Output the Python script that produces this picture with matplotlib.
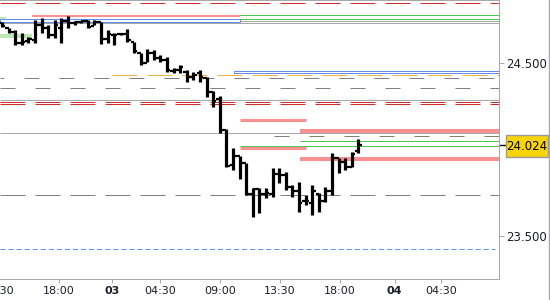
import matplotlib
matplotlib.use("Agg")
import matplotlib.pyplot as plt
from matplotlib.patches import Rectangle
from matplotlib.lines import Line2D
import matplotlib.transforms as mtransforms

plt.rcParams['lines.scale_dashes'] = False

# Barras OHLC de 30 minutos (indice de barra en el eje x)
highs = [24.737, 24.702, 24.691, 24.673, 24.650, 24.748, 24.760, 24.720, 24.748, 24.760,
         24.772, 24.743, 24.743, 24.748, 24.748, 24.737, 24.691, 24.673, 24.673, 24.696,
         24.621, 24.558, 24.581, 24.575, 24.546, 24.535, 24.471, 24.488, 24.459, 24.448,
         24.459, 24.419, 24.338, 24.309, 24.118, 24.009, 23.962, 23.922, 23.777, 23.777,
         23.777, 23.893, 23.893, 23.870, 23.795, 23.812, 23.737, 23.795, 23.748, 23.783,
         23.980, 23.951, 23.951, 23.985, 24.061]
lows = [24.708, 24.673, 24.604, 24.604, 24.615, 24.615, 24.673, 24.644, 24.644, 24.615,
        24.702, 24.720, 24.731, 24.702, 24.720, 24.610, 24.615, 24.604, 24.662, 24.621,
        24.558, 24.488, 24.506, 24.517, 24.506, 24.448, 24.442, 24.442, 24.390, 24.402,
        24.390, 24.303, 24.246, 24.095, 23.899, 23.881, 23.829, 23.737, 23.610, 23.633,
        23.719, 23.725, 23.806, 23.766, 23.725, 23.639, 23.679, 23.621, 23.639, 23.696,
        23.737, 23.864, 23.881, 23.899, 23.980]
opens = [24.730, 24.700, 24.680, 24.615, 24.625, 24.630, 24.720, 24.700, 24.660, 24.700,
         24.740, 24.730, 24.737, 24.740, 24.715, 24.735, 24.640, 24.660, 24.665, 24.665,
         24.620, 24.560, 24.500, 24.560, 24.530, 24.520, 24.455, 24.460, 24.450, 24.420,
         24.440, 24.415, 24.330, 24.290, 24.110, 23.910, 23.960, 23.920, 23.740, 23.770,
         23.740, 23.740, 23.860, 23.850, 23.780, 23.760, 23.700, 23.690, 23.740, 23.700,
         23.760, 23.950, 23.930, 23.900, 23.990]
closes = [24.712, 24.680, 24.615, 24.620, 24.640, 24.720, 24.700, 24.660, 24.720, 24.740,
          24.730, 24.735, 24.740, 24.710, 24.735, 24.640, 24.665, 24.662, 24.665, 24.630,
          24.570, 24.500, 24.560, 24.530, 24.520, 24.460, 24.460, 24.475, 24.420, 24.430,
          24.420, 24.330, 24.280, 24.110, 23.905, 23.960, 23.920, 23.740, 23.770, 23.740,
          23.750, 23.860, 23.850, 23.780, 23.760, 23.690, 23.700, 23.760, 23.700, 23.760,
          23.950, 23.930, 23.900, 23.975, 24.024]
last_price = 24.024

x_min, x_max = -0.3, 75.3
y_min, y_max = 23.251, 24.864

tick_pos = [8.6, 16.7, 23.9, 33.0, 42.1, 51.2, 59.5, 66.5]
tick_labels = ['18:00', '03', '04:30', '09:00', '13:30', '18:00', '04', '04:30']
y_ticks = [24.5, 23.5]

RED = '#d42a2a'
SALMON = '#fa9090'
GREEN = '#4cc84c'
BLUE = '#5f8ef0'
ORANGE = '#f2b23c'
GRAY = '#808080'
LGRAY = '#a8a8a8'
PX = 0.72  # un pixel en puntos

# niveles horizontales: precio, desde, hasta, color, ancho (px), estilo
levels = [
    (24.844, x_min, x_max, RED, 1, (0, (18, 7.2))),
    (24.780, 4.5, x_max, GREEN, 1, '-'),
    (24.772, 4.5, 36.1, SALMON, 2, '-'),
    (24.757, 36.1, x_max, GREEN, 1, '-'),
    (24.743, 36.1, x_max, LGRAY, 1, '-'),
    (24.729, x_min, x_max, LGRAY, 1, '-'),
    (24.428, 16.7, x_max, ORANGE, 1, (0, (18, 7.2))),
    (24.413, x_min, x_max, GRAY, 1, (8, (10.8, 14.4))),
    (24.354, x_min, x_max, GRAY, 1, (0, (10.8, 14.4))),
    (24.286, x_min, x_max, LGRAY, 1, '-'),
    (24.273, x_min, x_max, RED, 1, (0, (18, 7.2))),
    (24.262, x_min, x_max, RED, 1, (0, (18, 7.2))),
    (24.170, 36.1, 46.1, SALMON, 3, '-'),
    (24.095, x_min, x_max, LGRAY, 1, '-'),
    (24.104, 45.2, x_max, SALMON, 4, '-'),
    (24.075, 41.2, x_max, GRAY, 1, (0, (10.8, 14.4))),
    (24.047, 45.2, x_max, GREEN, 1, '-'),
    (24.018, 36.1, x_max, GREEN, 1, '-'),
    (24.006, 36.1, 46.1, SALMON, 3, '-'),
    (23.947, 45.2, x_max, SALMON, 4, '-'),
    (23.734, x_min, x_max, GRAY, 1, (0, (18, 7.2))),
    (23.425, x_min, 74.7, BLUE, 1, (0, (3.6, 2.2))),
]

# cajas: x0, x1, precio bajo, precio alto, relleno, borde
boxes = [
    (x_min, 0.6, 24.748, 24.766, '#bde8b4', 'none'),
    (x_min, 4.55, 24.644, 24.667, '#bde8b4', 'none'),
    (x_min, 36.1, 24.737, 24.754, 'none', BLUE),
    (35.15, x_max + 1, 24.442, 24.454, 'none', BLUE),
]

fig = plt.figure(figsize=(5.5, 3), dpi=100)
ax = fig.add_axes([0, 21 / 300, 499 / 550, 279 / 300])
ax.set_xlim(x_min, x_max)
ax.set_ylim(y_min, y_max)

for (x0, x1, lo, hi, fc, ec) in boxes:
    ax.add_patch(Rectangle((x0, lo), x1 - x0, hi - lo, facecolor=fc, edgecolor=ec,
                           linewidth=PX, zorder=1, snap=True))

for (p, x0, x1, col, w, ls) in levels:
    ax.plot([x0, x1], [p, p], color=col, linewidth=w * PX, linestyle=ls, zorder=2,
            snap=True, solid_capstyle='butt', dash_capstyle='butt')

xs = list(range(len(highs)))
ax.vlines(xs, lows, highs, colors='black', linewidth=2.3, zorder=5)
ax.hlines(opens, [x - 0.5 for x in xs], xs, colors='black', linewidth=1.6, zorder=5)
ax.hlines(closes, xs, [x + 0.5 for x in xs], colors='black', linewidth=1.6, zorder=5)

for side in ['top', 'right', 'bottom']:
    ax.spines[side].set_color(LGRAY)
    ax.spines[side].set_linewidth(PX)
ax.spines['left'].set_visible(False)

ax.set_xticks(tick_pos)
ax.set_xticklabels(tick_labels)
for lab in ax.get_xticklabels():
    if lab.get_text() in ('03', '04'):
        lab.set_fontweight('bold')
ax.tick_params(axis='x', colors=LGRAY, labelcolor='#1c1c2c', length=3, pad=2, labelsize=8)

ax.yaxis.tick_right()
ax.set_yticks(y_ticks)
ax.set_yticklabels(['%.3f' % v for v in y_ticks])
ax.tick_params(axis='y', colors=LGRAY, labelcolor='#1c1c2c', length=3.6, pad=1.5,
               labelsize=8.5)

# etiqueta cortada a la izquierda
ax.annotate('13:30', xy=(-0.45, 0), xycoords=('data', 'axes fraction'), xytext=(0, -5),
            textcoords='offset points', ha='center', va='top', fontsize=8,
            color='#1c1c2c', annotation_clip=False)

# precio actual
trans = mtransforms.blended_transform_factory(ax.transAxes, ax.transData)
ax.add_line(Line2D([1.0, 1.012], [last_price, last_price], transform=trans, color='black',
                   linewidth=1.0, clip_on=False))
fig.add_artist(Rectangle((506 / 550, (300 - 157) / 300), 42 / 550, 22 / 300,
                         transform=fig.transFigure, facecolor='#f7d40a', edgecolor='#9a9a9a',
                         linewidth=1.0))
fig.text(527 / 550, (300 - 146) / 300, '%.3f' % last_price, ha='center', va='center',
         fontsize=8.5, color='black')

# borde derecho de la figura
fig.add_artist(Line2D([548.5 / 550, 548.5 / 550], [0, 1], transform=fig.transFigure,
                      color=LGRAY, linewidth=1.0))

fig.savefig('out.png', dpi=100)
